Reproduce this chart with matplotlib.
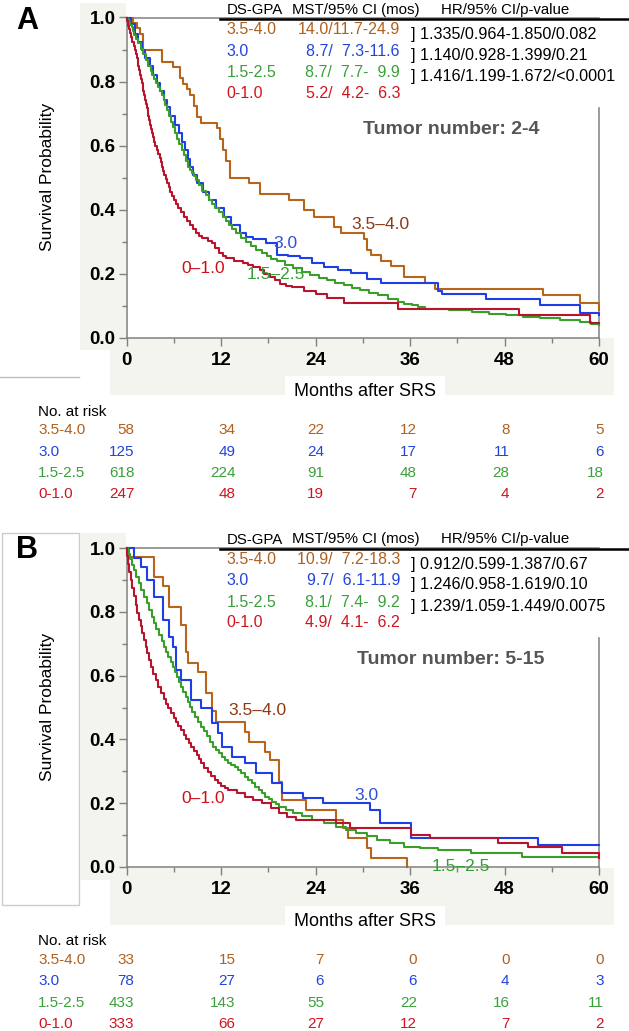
import matplotlib
matplotlib.use("Agg")
import matplotlib.pyplot as plt
from matplotlib.patches import Rectangle
from matplotlib.lines import Line2D
from matplotlib.ticker import MultipleLocator, FormatStrFormatter

plt.rcParams['font.family'] = ['Liberation Sans', 'DejaVu Sans']

W, H = 629, 1031

groups = ['3.5-4.0', '3.0', '1.5-2.5', '0-1.0']
curve_names = ['3.5–4.0', '3.0', '1.5–2.5', '0–1.0']

# Panel A: tumor number 2-4, (month, survival)
a_brown = [(0, 1.0), (0.85, 0.983), (1.3, 0.966), (1.7, 0.948), (2.1, 0.90), (4.5, 0.862), (5.9, 0.845),
           (6.8, 0.81), (7.2, 0.793), (7.7, 0.776), (8.1, 0.759), (8.6, 0.724), (9.0, 0.69), (9.4, 0.672),
           (11.5, 0.655), (11.9, 0.621), (12.2, 0.586), (12.6, 0.552), (13.1, 0.50), (15.6, 0.483), (16.9, 0.448),
           (20.6, 0.431), (22.5, 0.40), (23.8, 0.379), (26.3, 0.345), (27.2, 0.328), (30.2, 0.31), (30.6, 0.276),
           (31.0, 0.259), (32.3, 0.241), (33.6, 0.224), (35.3, 0.19), (37.9, 0.172), (39.2, 0.152), (52.9, 0.134),
           (57.6, 0.11), (60, 0.086)]
a_blue = [(0, 1.0), (0.6, 0.98), (1.1, 0.95), (1.5, 0.925), (1.93, 0.90), (2.4, 0.875), (3.0, 0.848), (3.4, 0.82),
          (3.85, 0.796), (4.3, 0.77), (4.71, 0.744), (5.1, 0.72), (5.57, 0.692), (6.1, 0.665), (6.72, 0.64),
          (7.1, 0.61), (7.49, 0.587), (7.75, 0.56), (8.0, 0.535), (8.5, 0.51), (9.0, 0.483), (9.7, 0.455),
          (10.49, 0.431), (11.4, 0.405), (12.42, 0.379), (13.3, 0.352), (14.35, 0.327), (15.2, 0.315),
          (16.0, 0.31), (17.77, 0.296), (19.06, 0.26), (20.5, 0.255), (22.06, 0.249), (23.5, 0.235),
          (25.05, 0.223), (26.8, 0.212), (28.48, 0.202), (30.5, 0.185), (32.33, 0.171), (39.6, 0.148),
          (40.0, 0.138), (45.6, 0.122), (52.5, 0.104), (57.6, 0.078), (60, 0.072)]
a_green = [(0, 1.0), (0.15, 0.992), (0.3, 0.985), (0.45, 0.978), (0.64, 0.97), (0.8, 0.958), (1.0, 0.945),
           (1.25, 0.933), (1.5, 0.92), (1.8, 0.903), (2.1, 0.885), (2.45, 0.866), (2.78, 0.848), (3.05, 0.834),
           (3.3, 0.82), (3.55, 0.808), (3.8, 0.795), (4.0, 0.782), (4.2, 0.77), (4.45, 0.757), (4.71, 0.744),
           (4.95, 0.727), (5.2, 0.71), (5.45, 0.692), (5.7, 0.675), (5.95, 0.658), (6.21, 0.64), (6.45, 0.622),
           (6.7, 0.605), (7.0, 0.587), (7.3, 0.57), (7.55, 0.552), (7.84, 0.535), (8.05, 0.525), (8.3, 0.515),
           (8.55, 0.504), (8.78, 0.494), (9.2, 0.477), (9.6, 0.46), (10.05, 0.445), (10.49, 0.431), (10.9, 0.418),
           (11.3, 0.405), (11.75, 0.392), (12.2, 0.379), (12.6, 0.365), (13.0, 0.352), (13.45, 0.34),
           (13.9, 0.327), (14.55, 0.313), (15.2, 0.30), (15.85, 0.287), (16.5, 0.275), (17.15, 0.265),
           (17.8, 0.256), (18.4, 0.248), (19.06, 0.24), (20.1, 0.228), (21.2, 0.218), (22.3, 0.207),
           (23.3, 0.196), (24.4, 0.188), (25.5, 0.18), (26.5, 0.172), (27.6, 0.165), (28.6, 0.157),
           (29.7, 0.149), (30.8, 0.141), (31.9, 0.134), (33.2, 0.122), (34.5, 0.113), (35.3, 0.107),
           (36.2, 0.102), (37.0, 0.097), (37.9, 0.092), (40.9, 0.087), (43.9, 0.082), (46.0, 0.076),
           (48.2, 0.071), (50.4, 0.066), (52.5, 0.061), (55.0, 0.056), (57.6, 0.05), (59.0, 0.045), (60, 0.04)]
a_red = [(0, 1.0), (0.1, 0.988), (0.2, 0.975), (0.32, 0.963), (0.43, 0.952), (0.6, 0.938), (0.75, 0.925),
         (0.9, 0.912), (1.07, 0.90), (1.18, 0.887), (1.3, 0.874), (1.4, 0.861), (1.5, 0.848), (1.6, 0.835),
         (1.7, 0.822), (1.8, 0.809), (1.93, 0.796), (2.04, 0.783), (2.15, 0.77), (2.25, 0.757), (2.36, 0.744),
         (2.47, 0.731), (2.57, 0.718), (2.68, 0.705), (2.78, 0.692), (2.9, 0.679), (3.0, 0.666), (3.1, 0.653),
         (3.21, 0.64), (3.35, 0.627), (3.5, 0.613), (3.68, 0.60), (3.85, 0.587), (4.02, 0.574), (4.2, 0.561),
         (4.35, 0.548), (4.5, 0.535), (4.65, 0.522), (4.8, 0.509), (4.97, 0.496), (5.14, 0.483), (5.35, 0.47),
         (5.55, 0.457), (5.78, 0.444), (6.0, 0.431), (6.3, 0.418), (6.6, 0.405), (6.95, 0.392), (7.28, 0.379),
         (7.65, 0.366), (8.0, 0.353), (8.4, 0.34), (8.78, 0.327), (9.2, 0.318), (9.64, 0.311), (10.3, 0.303),
         (10.9, 0.296), (11.3, 0.28), (11.8, 0.265), (12.2, 0.257), (12.6, 0.249), (13.7, 0.241), (14.8, 0.233),
         (15.4, 0.227), (16.0, 0.222), (16.9, 0.212), (17.5, 0.20), (18.2, 0.19), (18.8, 0.18), (19.5, 0.169),
         (20.2, 0.163), (21.0, 0.158), (22.5, 0.147), (24.0, 0.137), (25.5, 0.126), (27.6, 0.11), (34.5, 0.089),
         (49.9, 0.072), (58.9, 0.046), (60, 0.046)]

# Panel B: tumor number 5-15
b_brown = [(0, 1.0), (0.3, 0.974), (3.5, 0.911), (4.6, 0.882), (5.4, 0.817), (6.9, 0.759), (7.6, 0.675),
           (7.8, 0.64), (9.1, 0.61), (10.1, 0.545), (10.8, 0.49), (11.4, 0.455), (15.1, 0.424), (15.5, 0.393),
           (17.6, 0.361), (18.2, 0.335), (19.4, 0.267), (19.8, 0.209), (22.8, 0.178), (26.6, 0.147),
           (27.5, 0.12), (28.1, 0.089), (30.5, 0.058), (31.1, 0.026), (35.6, 0.0)]
b_blue = [(0, 1.0), (0.94, 0.97), (1.8, 0.942), (2.65, 0.90), (3.5, 0.848), (4.6, 0.775), (5.4, 0.722),
          (5.87, 0.69), (6.3, 0.618), (6.94, 0.586), (8.2, 0.524), (9.5, 0.497), (10.8, 0.45), (11.65, 0.419),
          (12.1, 0.377), (13.4, 0.346), (15.1, 0.325), (16.4, 0.293), (18.5, 0.262), (19.8, 0.23), (22.4, 0.215),
          (25.0, 0.199), (30.9, 0.178), (32.2, 0.136), (36.1, 0.089), (52.3, 0.068), (60, 0.068)]
b_green = [(0, 1.0), (0.2, 0.982), (0.4, 0.965), (0.65, 0.948), (0.94, 0.932), (1.25, 0.91), (1.6, 0.89),
           (1.9, 0.869), (2.23, 0.848), (2.55, 0.827), (2.9, 0.806), (3.2, 0.785), (3.5, 0.764), (3.8, 0.745),
           (4.1, 0.727), (4.45, 0.708), (4.8, 0.69), (5.05, 0.675), (5.3, 0.66), (5.6, 0.644), (5.87, 0.628),
           (6.15, 0.612), (6.4, 0.597), (6.65, 0.581), (6.94, 0.565), (7.2, 0.55), (7.5, 0.534), (7.75, 0.518),
           (8.0, 0.503), (8.35, 0.486), (8.7, 0.47), (9.1, 0.455), (9.5, 0.44), (9.85, 0.425), (10.2, 0.41),
           (10.6, 0.393), (11.0, 0.377), (11.35, 0.366), (11.7, 0.356), (12.1, 0.345), (12.5, 0.335),
           (12.9, 0.327), (13.3, 0.32), (13.75, 0.312), (14.2, 0.304), (14.6, 0.293), (15.0, 0.283),
           (15.45, 0.272), (15.9, 0.262), (16.35, 0.251), (16.8, 0.241), (17.2, 0.23), (17.65, 0.22),
           (18.1, 0.212), (18.5, 0.204), (18.95, 0.196), (19.4, 0.188), (20.2, 0.178), (21.1, 0.168),
           (22.3, 0.158), (23.6, 0.147), (25.1, 0.137), (26.6, 0.126), (27.9, 0.116), (29.2, 0.105),
           (30.5, 0.095), (31.8, 0.084), (33.5, 0.074), (35.2, 0.063), (37.3, 0.058), (39.5, 0.052),
           (43.8, 0.042), (50.2, 0.031), (60, 0.026)]
b_red = [(0, 1.0), (0.1, 0.975), (0.2, 0.95), (0.35, 0.925), (0.51, 0.90), (0.73, 0.875), (0.95, 0.85),
         (1.15, 0.823), (1.37, 0.796), (1.58, 0.775), (1.8, 0.755), (2.0, 0.733), (2.23, 0.712), (2.45, 0.69),
         (2.65, 0.67), (2.85, 0.649), (3.08, 0.628), (3.4, 0.606), (3.7, 0.585), (4.05, 0.565), (4.37, 0.545),
         (4.7, 0.528), (5.0, 0.512), (5.3, 0.497), (5.65, 0.482), (6.0, 0.468), (6.3, 0.455), (6.6, 0.442),
         (6.94, 0.43), (7.25, 0.415), (7.6, 0.40), (7.9, 0.388), (8.22, 0.377), (8.55, 0.363), (8.9, 0.35),
         (9.2, 0.337), (9.5, 0.325), (9.9, 0.311), (10.3, 0.298), (10.75, 0.285), (11.2, 0.272), (11.6, 0.263),
         (12.0, 0.255), (12.45, 0.248), (12.9, 0.241), (14.0, 0.23), (15.1, 0.22), (16.1, 0.21), (17.2, 0.199),
         (18.3, 0.183), (19.4, 0.168), (20.4, 0.157), (21.5, 0.147), (26.6, 0.136), (28.4, 0.12), (36.1, 0.10),
         (38.6, 0.089), (47.2, 0.073), (51.0, 0.063), (55.3, 0.042), (60, 0.026)]

a_mst = ['14.0/11.7-24.9', '8.7/  7.3-11.6', '8.7/  7.7-  9.9', '5.2/  4.2-  6.3']
b_mst = ['10.9/  7.2-18.3', '9.7/  6.1-11.9', '8.1/  7.4-  9.2', '4.9/  4.1-  6.2']
a_hr = ['1.335/0.964-1.850/0.082', '1.140/0.928-1.399/0.21', '1.416/1.199-1.672/<0.0001']
b_hr = ['0.912/0.599-1.387/0.67', '1.246/0.958-1.619/0.10', '1.239/1.059-1.449/0.0075']

a_risk = [[58, 34, 22, 12, 8, 5], [125, 49, 24, 17, 11, 6], [618, 224, 91, 48, 28, 18], [247, 48, 19, 7, 4, 2]]
b_risk = [[33, 15, 7, 0, 0, 0], [78, 27, 6, 6, 4, 3], [433, 143, 55, 22, 16, 11], [333, 66, 27, 12, 7, 2]]

line_colors = ['#b8651c', '#1f3fe6', '#3a9e2a', '#b8142e']
text_colors = ['#b0601e', '#2244dd', '#3aa03a', '#d0141e']
label_colors = ['#8b3a12', '#2f4fd8', '#32a032', '#cc1018']
beige = '#f4f4ee'
axis_gray = '#808080'

fig = plt.figure(figsize=(W / 100, H / 100), dpi=100)


def fy(y):
    return 1 - y / H


def add_rect(x0, y0, x1, y1, fc, ec='none', lw=0, z=0):
    fig.add_artist(Rectangle((x0 / W, fy(y1)), (x1 - x0) / W, (y1 - y0) / H, transform=fig.transFigure,
                             facecolor=fc, edgecolor=ec, linewidth=lw, zorder=z))


def draw_panel(top, bottom, dy, letter, curves, mst, hr, risk, tumor, label_pos):
    add_rect(80, 3 + dy, 126, 350 + dy, beige)
    add_rect(110, 338 + dy, 614, 395 + dy, beige)
    add_rect(285, 376 + dy, 445, 398 + dy, 'white', z=0.5)

    ax = fig.add_axes([126.5 / W, fy(bottom), (599 - 126.5) / W, (bottom - top) / H])
    ax.set_xlim(0, 60)
    ax.set_ylim(0, 1)
    for sp in ax.spines.values():
        sp.set_color(axis_gray)
        sp.set_linewidth(1.1)
    ax.spines['right'].set_bounds(0, 0.717)
    ax.xaxis.set_major_locator(MultipleLocator(12))
    ax.xaxis.set_minor_locator(MultipleLocator(6))
    ax.yaxis.set_major_locator(MultipleLocator(0.2))
    ax.yaxis.set_minor_locator(MultipleLocator(0.1))
    ax.yaxis.set_major_formatter(FormatStrFormatter('%.1f'))
    ax.tick_params(which='major', length=6, width=1, color=axis_gray, labelsize=13.5)
    ax.tick_params(which='minor', length=3.5, width=1, color=axis_gray)
    ax.tick_params(axis='y', pad=2)
    ax.tick_params(axis='x', pad=4)
    for lbl in ax.get_xticklabels() + ax.get_yticklabels():
        lbl.set_fontweight('bold')

    for pts, c in zip(curves, line_colors):
        t = [p[0] for p in pts]
        s = [p[1] for p in pts]
        ax.plot(t, s, drawstyle='steps-post', color=c, lw=1.5, clip_on=False, zorder=3)
    for (mx, sy), name, c in zip(label_pos, curve_names, label_colors):
        ax.text(mx, sy, name, ha='center', va='center', color=c, fontsize=12.5, zorder=4)

    fig.text(16 / W, fy(21 + dy), letter, fontsize=22, fontweight='bold', va='center')
    fig.text(48 / W, fy(177 + dy), 'Survival Probability', rotation=90, ha='center', va='center', fontsize=12.5)
    fig.text(365 / W, fy(391.5 + dy), 'Months after SRS', ha='center', va='center', fontsize=13, zorder=2)

    # header table
    fig.add_artist(Line2D([220 / W, 1.0], [fy(19 + dy)] * 2, color='black', lw=1.8, transform=fig.transFigure))
    fig.text(226.5 / W, fy(10 + dy), 'DS-GPA', fontsize=10.8, va='center')
    fig.text(292 / W, fy(10 + dy), 'MST/95% CI (mos)', fontsize=10.8, va='center')
    fig.text(441 / W, fy(10 + dy), 'HR/95% CI/p-value', fontsize=10.8, va='center')
    row_y = [30, 51, 72.7, 93.3]
    for i in range(4):
        fig.text(226.5 / W, fy(row_y[i] + dy), groups[i], color=text_colors[i], fontsize=11.5, va='center')
        fig.text(400 / W, fy(row_y[i] + dy), mst[i], color=text_colors[i], fontsize=11.5, va='center',
                 ha='right')
    hr_y = [35, 55.5, 77]
    for i in range(3):
        fig.text(411 / W, fy(hr_y[i] + dy), '] ' + hr[i], fontsize=11.6, va='center')

    fig.text(451 / W, fy(130 + dy), tumor, fontsize=14, fontweight='bold', color='#555555', ha='center',
             va='center')

    # number at risk
    fig.text(38 / W, fy(411.7 + dy), 'No. at risk', fontsize=11, va='center')
    risk_y = [430, 451.7, 473.3, 494]
    col_x = [134.4, 235.5, 324.1, 416.8, 509.4, 603.7]
    for i in range(4):
        fig.text(38 / W, fy(risk_y[i] + dy), groups[i], color=text_colors[i], fontsize=11, va='center')
        for x, v in zip(col_x, risk[i]):
            fig.text(x / W, fy(risk_y[i] + dy), str(v), color=text_colors[i], fontsize=11, va='center', ha='right')
    return ax


# page frame lines
fig.add_artist(Line2D([0, 79 / W], [fy(377)] * 2, color='#bdbdbd', lw=1, transform=fig.transFigure))
add_rect(2, 533, 79, 905, 'white', ec='#cccccc', lw=1, z=-1)

draw_panel(17.5, 338, 0, 'A', [a_brown, a_blue, a_green, a_red],
           a_mst, a_hr, a_risk, 'Tumor number: 2-4',
           [(32.3, 0.353), (20.2, 0.295), (18.9, 0.197), (9.75, 0.217)])
draw_panel(548.3, 866.7, 529.5, 'B', [b_brown, b_blue, b_green, b_red],
           b_mst, b_hr, b_risk, 'Tumor number: 5-15',
           [(16.6, 0.492), (30.5, 0.225), (42.4, 0.0), (9.8, 0.215)])

fig.savefig('out.png', dpi=100)
